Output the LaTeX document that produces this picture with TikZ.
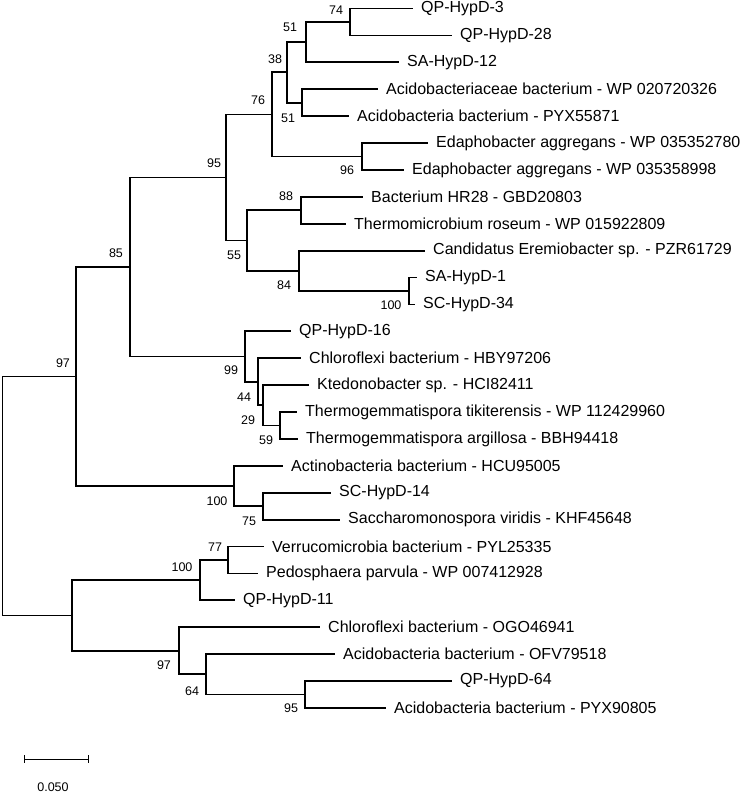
\documentclass[tikz,border=0pt]{standalone}
\usepackage{fontspec}
\setmainfont{Liberation Sans}
\usetikzlibrary{calc}
\begin{document}
\begin{tikzpicture}[x=1pt,y=-1pt,
  br/.style={line width=1.8pt,line cap=rect},
  leaf/.style={anchor=west,inner sep=0pt,xshift=9pt,font=\fontsize{16}{18}\selectfont},
  bs/.style={inner sep=0pt,font=\fontsize{12.5}{13}\selectfont}]
\useasboundingbox (0,0) rectangle (749,795);
\def\Y#1{\fpeval{8.5+(#1-1)*26.9}}
\foreach \i/\x/\t in {1/412/QP-HypD-3, 2/451/QP-HypD-28, 3/398/SA-HypD-12,
  4/377/Acidobacteriaceae bacterium - WP 020720326, 5/348/Acidobacteria bacterium - PYX55871,
  6/427/Edaphobacter aggregans - WP 035352780, 7/403/Edaphobacter aggregans - WP 035358998,
  8/362/Bacterium HR28 - GBD20803, 9/345/Thermomicrobium roseum - WP 015922809,
  10/424/Candidatus Eremiobacter sp. - PZR61729, 11/416/SA-HypD-1, 12/414/SC-HypD-34,
  13/290/QP-HypD-16, 14/300/Chloroflexi bacterium - HBY97206, 15/308/Ktedonobacter sp. - HCI82411,
  16/296/Thermogemmatispora tikiterensis - WP 112429960, 17/297/Thermogemmatispora argillosa - BBH94418,
  18/282/Actinobacteria bacterium - HCU95005, 19/330/SC-HypD-14, 20/339/Saccharomonospora viridis - KHF45648,
  21/263/Verrucomicrobia bacterium - PYL25335, 22/257/Pedosphaera parvula - WP 007412928, 23/234/QP-HypD-11,
  24/319/Chloroflexi bacterium - OGO46941, 25/334/Acidobacteria bacterium - OFV79518,
  26/451/QP-HypD-64, 27/385/Acidobacteria bacterium - PYX90805}
  {\coordinate (t\i) at (\x,{\Y{\i}}); \node[leaf] (l\i) at (t\i) {\t};}
% internal nodes
\def\mid#1#2#3#4{\path let \p1=(#3), \p2=(#4) in coordinate (#1) at (#2pt,{(\y1+\y2)/2});}
\mid{n74}{350}{t1}{t2}
\mid{n51a}{306}{n74}{t3}
\mid{n51b}{302}{t4}{t5}
\mid{n38}{287}{n51a}{n51b}
\mid{n96}{362}{t6}{t7}
\mid{n76}{272}{n38}{n96}
\mid{n88}{301}{t8}{t9}
\mid{n100a}{409}{t11}{t12}
\mid{n84}{299}{t10}{n100a}
\mid{n55}{247}{n88}{n84}
\mid{n95}{226}{n76}{n55}
\mid{n59}{280}{t16}{t17}
\mid{n29}{263}{t15}{n59}
\mid{n44}{258}{t14}{n29}
\mid{n99}{245}{t13}{n44}
\mid{n85}{130}{n95}{n99}
\mid{n75}{263}{t19}{t20}
\mid{n100b}{234}{t18}{n75}
\mid{n97a}{76}{n85}{n100b}
\mid{n77}{228}{t21}{t22}
\mid{n100c}{200}{n77}{t23}
\mid{n95b}{305}{t26}{t27}
\mid{n64}{206}{t25}{n95b}
\mid{n97b}{179}{t24}{n64}
\mid{nlow}{72}{n100c}{n97b}
\mid{root}{2.5}{n97a}{nlow}
\foreach \p/\a/\b in {n74/t1/t2, n51a/n74/t3, n51b/t4/t5, n38/n51a/n51b, n96/t6/t7,
  n76/n38/n96, n88/t8/t9, n100a/t11/t12, n84/t10/n100a, n55/n88/n84, n95/n76/n55,
  n59/t16/t17, n29/t15/n59, n44/t14/n29, n99/t13/n44, n85/n95/n99, n75/t19/t20,
  n100b/t18/n75, n97a/n85/n100b, n77/t21/t22, n100c/n77/t23, n95b/t26/t27,
  n64/t25/n95b, n97b/t24/n64, nlow/n100c/n97b, root/n97a/nlow}
  {\draw[br] (\a) -| (\p) |- (\b);}
% bootstrap values
\node[bs] at (336,10) {74};
\node[bs] at (290,27) {51};
\node[bs] at (275,59) {38};
\node[bs] at (258,100) {76};
\node[bs] at (288,118) {51};
\node[bs] at (347,170) {96};
\node[bs] at (214,163) {95};
\node[bs] at (286,196) {88};
\node[bs] at (234,255) {55};
\node[bs] at (284,285) {84};
\node[bs] at (391,305) {100};
\node[bs] at (116,253) {85};
\node[bs] at (231,370) {99};
\node[bs] at (244,397) {44};
\node[bs] at (248,420) {29};
\node[bs] at (266,440) {59};
\node[bs] at (63,363) {97};
\node[bs] at (217,501) {100};
\node[bs] at (249,521) {75};
\node[bs] at (215,547) {77};
\node[bs] at (182,567) {100};
\node[bs] at (164,665) {97};
\node[bs] at (192,691) {64};
\node[bs] at (291,708) {95};
% scale bar
\coordinate (sb1) at (24,759);
\coordinate (sb2) at (88,759);
\draw[line width=1pt] (sb1) -- (sb2);
\draw[line width=1pt] (sb1) ++(0,-4) -- ++(0,8);
\draw[line width=1pt] (sb2) ++(0,-4) -- ++(0,8);
\node[bs] (sbl) at (53,787) {0.050};
\end{tikzpicture}
\end{document}
